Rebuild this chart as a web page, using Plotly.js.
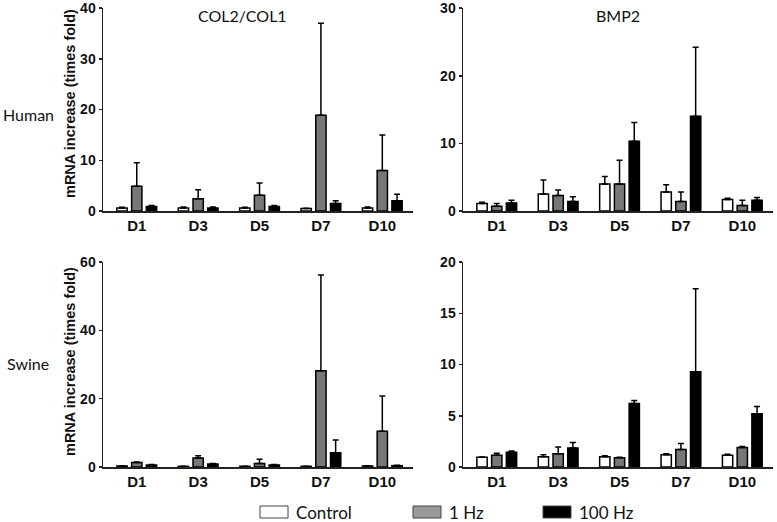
<!DOCTYPE html>
<html><head><meta charset="utf-8">
<script src="https://cdn.plot.ly/plotly-3.0.1.min.js"></script>
<style>html,body{margin:0;padding:0;background:#fff}#chart{width:777px;height:522px}</style>
</head><body><div id="chart"></div>
<script>
const days = ['D1','D3','D5','D7','D10'];
const groups = ['Control','1 Hz','100 Hz'];

// Human COL2/COL1
const humanColCtrl = [0.6,0.6,0.6,0.5,0.6];
const humanColCtrlErr = [0.15,0.2,0.15,0.05,0.2];
const humanCol1Hz = [4.9,2.4,3.1,18.9,8.0];
const humanCol1HzErr = [4.6,1.8,2.4,18.1,7.0];
const humanCol100Hz = [0.9,0.6,0.9,1.5,2.0];
const humanCol100HzErr = [0.2,0.2,0.2,0.5,1.3];

// Human BMP2
const humanBmpCtrl = [1.1,2.5,4.0,2.8,1.7];
const humanBmpCtrlErr = [0.2,2.1,1.1,1.1,0.2];
const humanBmp1Hz = [0.7,2.3,4.0,1.4,0.8];
const humanBmp1HzErr = [0.4,0.8,3.5,1.4,0.8];
const humanBmp100Hz = [1.2,1.4,10.3,14.0,1.6];
const humanBmp100HzErr = [0.4,0.7,2.8,10.2,0.4];

// Swine COL2/COL1
const swineColCtrl = [0.3,0.2,0.2,0.2,0.3];
const swineColCtrlErr = [0.05,0.05,0.05,0.05,0.05];
const swineCol1Hz = [1.3,2.6,1.0,28.2,10.5];
const swineCol1HzErr = [0.2,0.7,1.3,28.0,10.3];
const swineCol100Hz = [0.6,0.9,0.6,4.2,0.4];
const swineCol100HzErr = [0.1,0.1,0.1,3.7,0.1];

// Swine BMP2
const swineBmpCtrl = [0.95,1.0,1.0,1.2,1.15];
const swineBmpCtrlErr = [0.02,0.2,0.1,0.1,0.1];
const swineBmp1Hz = [1.15,1.3,0.9,1.7,1.9];
const swineBmp1HzErr = [0.2,0.65,0.05,0.6,0.1];
const swineBmp100Hz = [1.45,1.85,6.2,9.3,5.2];
const swineBmp100HzErr = [0.1,0.55,0.3,8.1,0.7];

const fills = ['#ffffff','#777777','#000000'];
const legendFills = ['#ffffff','#999999','#000000'];

const panels = [
  {xa:'x', ya:'y', series:[[humanColCtrl,humanColCtrlErr],[humanCol1Hz,humanCol1HzErr],[humanCol100Hz,humanCol100HzErr]]},
  {xa:'x2', ya:'y2', series:[[humanBmpCtrl,humanBmpCtrlErr],[humanBmp1Hz,humanBmp1HzErr],[humanBmp100Hz,humanBmp100HzErr]]},
  {xa:'x3', ya:'y3', series:[[swineColCtrl,swineColCtrlErr],[swineCol1Hz,swineCol1HzErr],[swineCol100Hz,swineCol100HzErr]]},
  {xa:'x4', ya:'y4', series:[[swineBmpCtrl,swineBmpCtrlErr],[swineBmp1Hz,swineBmp1HzErr],[swineBmp100Hz,swineBmp100HzErr]]}
];

const data = [];
panels.forEach(p => {
  p.series.forEach((s, i) => {
    data.push({
      type:'bar', x: days, y: s[0], name: groups[i], xaxis:p.xa, yaxis:p.ya,
      showlegend:false, offsetgroup: String(i),
      marker:{color:fills[i], line:{color:'#000', width:1.5}},
      error_y:{type:'data', symmetric:false, array:s[1], arrayminus:s[1].map(()=>0), color:'#000', thickness:1.5, width:3},
      hoverinfo:'skip'
    });
  });
});

const tickFont = {family:'Liberation Sans, Arial, sans-serif', size:14, color:'#111', weight:'bold'};
const xTickFont = {family:'Liberation Sans, Arial, sans-serif', size:15, color:'#111', weight:'bold'};
function xa(domain, anchor){
  return {domain:domain, anchor:anchor, type:'category', range:[-0.55,4.5], showline:true, linecolor:'#222', linewidth:1.5,
    ticks:'', showgrid:false, zeroline:false, tickfont:xTickFont, fixedrange:true};
}
function ya(domain, anchor, range, dtick){
  return {domain:domain, anchor:anchor, range:range, tick0:0, dtick:dtick, showline:true, linecolor:'#222', linewidth:1.5,
    ticks:'outside', ticklen:3, tickwidth:1.5, tickcolor:'#222', showgrid:false, zeroline:false, tickfont:tickFont,
    ticklabeloverflow:'allow', fixedrange:true};
}

const dxL = [103/777, 413/777], dxR = [463/777, 773/777];
const dyT = [1-211/522, 1-8/522], dyB = [1-467/522, 1-262/522];

const lblFont = {family:'Lato, Open Sans, sans-serif', size:16, color:'#111'};
const yTitleFont = {family:'Liberation Sans, Arial, sans-serif', size:14.5, color:'#111', weight:'bold'};
const annotations = [
  {text:'COL2/COL1', x:242/777, y:1-15/522, xref:'paper', yref:'paper', showarrow:false, font:lblFont, xanchor:'center', yanchor:'middle'},
  {text:'BMP2', x:618/777, y:1-15/522, xref:'paper', yref:'paper', showarrow:false, font:lblFont, xanchor:'center', yanchor:'middle'},
  {text:'Human', x:1/777, y:1-115/522, xref:'paper', yref:'paper', showarrow:false, font:lblFont, xanchor:'left', yanchor:'middle'},
  {text:'Swine', x:5/777, y:1-363/522, xref:'paper', yref:'paper', showarrow:false, font:lblFont, xanchor:'left', yanchor:'middle'},
  {text:'mRNA increase (times fold)', textangle:-90, x:70/777, y:1-104/522, xref:'paper', yref:'paper', showarrow:false, font:yTitleFont, xanchor:'center', yanchor:'middle'},
  {text:'mRNA increase (times fold)', textangle:-90, x:70/777, y:1-362/522, xref:'paper', yref:'paper', showarrow:false, font:yTitleFont, xanchor:'center', yanchor:'middle'}
];
const legendBoxX = [260, 413, 543];
const legendTextX = [294, 447, 577];
const shapes = [];
groups.forEach((g, i) => {
  shapes.push({type:'rect', xref:'paper', yref:'paper', x0:legendBoxX[i]/777, x1:(legendBoxX[i]+28)/777,
    y0:1-518/522, y1:1-506/522, fillcolor:legendFills[i], line:{color:'#444', width:1}});
  annotations.push({text:g, x:legendTextX[i]/777, y:1-512/522, xref:'paper', yref:'paper', showarrow:false,
    font:{family:'Lato, Open Sans, sans-serif', size:17, color:'#111'}, xanchor:'left', yanchor:'middle'});
});

const layout = {
  width:777, height:522, margin:{l:0,r:0,t:0,b:0}, paper_bgcolor:'#fff', plot_bgcolor:'#fff',
  barmode:'group', bargap:0.28, bargroupgap:0.3, showlegend:false,
  xaxis: xa(dxL,'y'), yaxis: ya(dyT,'x',[0,40.02],10),
  xaxis2: xa(dxR,'y2'), yaxis2: ya(dyT,'x2',[0,30.02],10),
  xaxis3: xa(dxL,'y3'), yaxis3: ya(dyB,'x3',[0,60.02],20),
  xaxis4: xa(dxR,'y4'), yaxis4: ya(dyB,'x4',[0,20.01],5),
  annotations: annotations, shapes: shapes
};

Plotly.newPlot('chart', data, layout, {staticPlot:true, displayModeBar:false});
</script></body></html>
